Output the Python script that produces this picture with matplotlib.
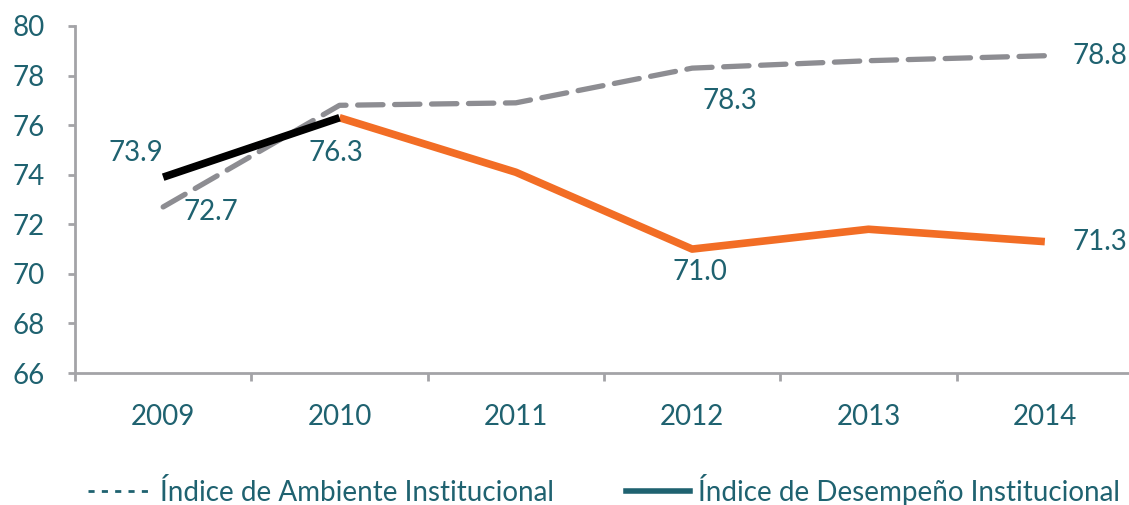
import matplotlib.pyplot as plt
from matplotlib.lines import Line2D

plt.rcParams['font.family'] = ['Lato', 'DejaVu Sans']

years = ['2009', '2010', '2011', '2012', '2013', '2014']
ambiente = [72.7, 76.8, 76.9, 78.3, 78.6, 78.8]
desempeno_ini = [73.9, 76.3]          # 2009-2010, black segment
desempeno = [76.3, 74.1, 71.0, 71.8, 71.3]  # 2010-2014, orange

teal = '#1f6270'
gray = '#8d8d92'
orange = '#f26d25'
axis_gray = '#a3a3a7'
fs = 20

fig = plt.figure(figsize=(11.29, 5.05), dpi=100)
ax = fig.add_axes([75/1129, (505-373)/505, (1133-75)/1129, (373-26)/505])

x = list(range(len(years)))
ax.plot(x, ambiente, color=gray, lw=3.8, dashes=(4.8, 2.2), dash_capstyle='round', zorder=2)
ax.plot(x[1:], desempeno, color=orange, lw=5.5, solid_capstyle='butt', zorder=3)
ax.plot(x[:2], desempeno_ini, color='black', lw=5.5, solid_capstyle='butt', zorder=4)

# data labels (value, index, y, offset in px)
labels = [
    (desempeno_ini[0], 0, desempeno_ini[0], (-27, 24)),
    (ambiente[0], 0, ambiente[0], (48, -5)),
    (desempeno[0], 1, desempeno[0], (-4, -35)),
    (ambiente[3], 3, ambiente[3], (38, -33)),
    (desempeno[2], 3, desempeno[2], (8, -23)),
    (ambiente[5], 5, ambiente[5], (55, 0)),
    (desempeno[4], 5, desempeno[4], (55, 0)),
]
for val, i, y, off in labels:
    ax.annotate(f'{val:.1f}', (i, y), xytext=(off[0]*0.72, off[1]*0.72),
                textcoords='offset points', ha='center', va='center',
                fontsize=fs, color=teal)

ax.set_xlim(-0.5, 5.5)
ax.set_ylim(66, 80)
ax.set_yticks(range(66, 81, 2))
ax.tick_params(axis='y', colors=axis_gray, labelcolor=teal, labelsize=fs,
               length=5, width=2, pad=17)
ax.set_xticks(x)
ax.set_xticklabels(years)
ax.tick_params(axis='x', which='major', length=0, labelcolor=teal, labelsize=fs, pad=22)
ax.set_xticks([i - 0.5 for i in range(len(years) + 1)], minor=True)
ax.tick_params(axis='x', which='minor', length=6, width=2, colors=axis_gray)

for s in ['top', 'right']:
    ax.spines[s].set_visible(False)
for s in ['left', 'bottom']:
    ax.spines[s].set_color(axis_gray)
    ax.spines[s].set_linewidth(2)

handles = [
    Line2D([], [], color=teal, lw=2, dashes=(2.2, 2.6)),
    Line2D([], [], color=teal, lw=4),
]
fig.legend(handles, ['Índice de Ambiente Institucional', 'Índice de Desempeño Institucional'],
           loc='center', bbox_to_anchor=(0.535, 0.03), ncol=2, frameon=False,
           fontsize=fs, labelcolor=teal, handlelength=2.3, handletextpad=0.3,
           columnspacing=2.6)

fig.savefig('out.png', dpi=100)
